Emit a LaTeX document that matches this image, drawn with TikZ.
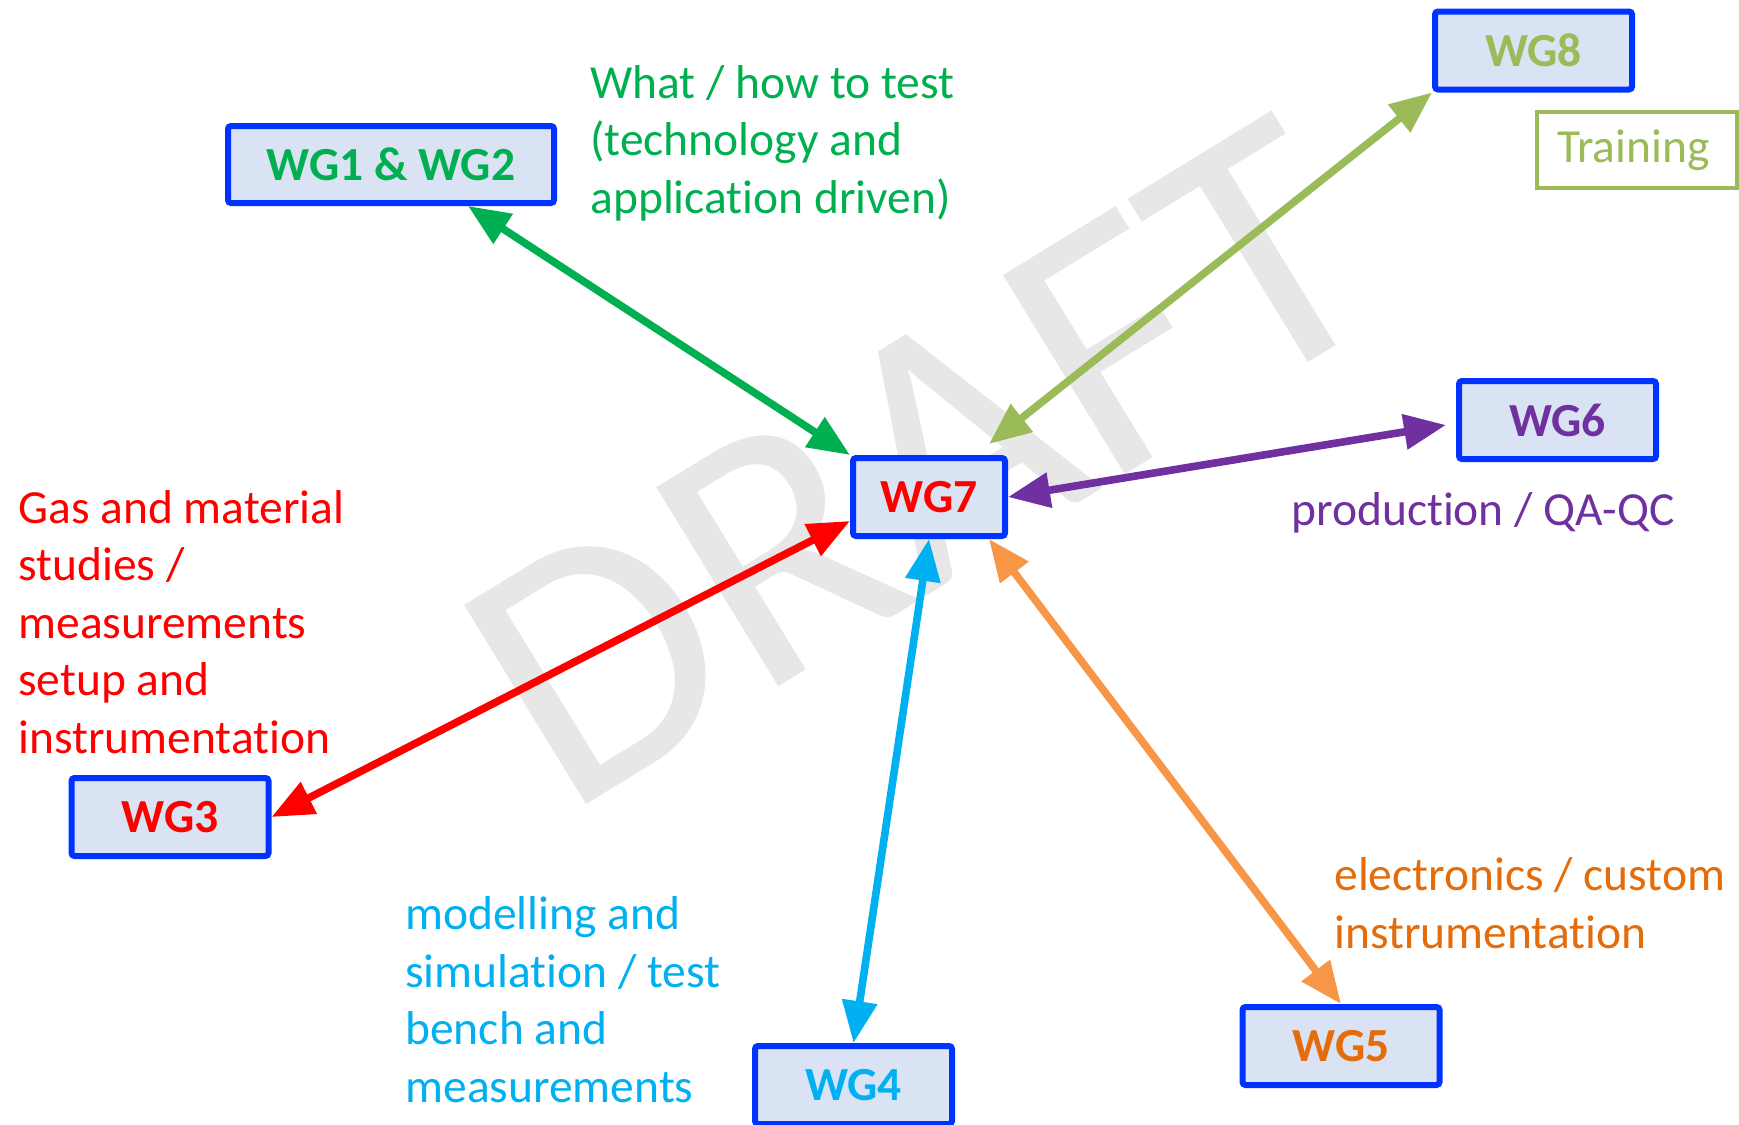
\documentclass[tikz,border=0pt]{standalone}
\usepackage{fontspec}
\setmainfont{Carlito}[Ligatures={NoCommon}]
\usetikzlibrary{arrows.meta}

\definecolor{boxfill}{RGB}{218,227,243}
\definecolor{boxline}{RGB}{0,51,255}
\definecolor{wggreen}{RGB}{0,176,80}
\definecolor{wglime}{RGB}{155,187,89}
\definecolor{wgpurple}{RGB}{112,48,160}
\definecolor{wgred}{RGB}{255,0,0}
\definecolor{wgcyan}{RGB}{0,176,240}
\definecolor{wgorange}{RGB}{247,150,70}
\definecolor{wgorangetext}{RGB}{228,108,10}
\definecolor{watermark}{RGB}{231,231,231}

\begin{document}
\begin{tikzpicture}[x=0.5pt,y=-0.5pt,
  wgbox/.style={draw=boxline, fill=boxfill, line width=3pt, rounded corners=1.5pt,
    minimum width=98.5pt, minimum height=39pt, inner sep=0pt,
    font=\fontsize{23.75}{28.5}\selectfont\bfseries},
  note/.style={anchor=base west, align=left, inner sep=0pt,
    font=\fontsize{23.75}{28.75}\selectfont},
  link/.style={line width=3.8pt,
    {Triangle[length=21pt,width=17pt]}-{Triangle[length=21pt,width=17pt]}}
]
\useasboundingbox (0,0) rectangle (1739,1124);
\clip (0,0) rectangle (1739,1124);
\fill[white] (0,0) rectangle (1739,1124);

% watermark
\node[anchor=base west, rotate=31.5, inner sep=0pt, text=watermark,
  font=\fontsize{182}{182}\selectfont] (draft) at (565,818) {DRAFT};

% working group boxes
\node[wgbox, text=wggreen, minimum width=163pt, minimum height=38.5pt] (g12) at (391,164.5) {WG1 \& WG2};
\node[wgbox, text=wgred, minimum width=76pt] (wg7) at (929,497) {WG7};
\node[wgbox, text=wglime] (wg8) at (1533.5,50.5) {WG8};
\node[wgbox, text=wgpurple] (wg6) at (1557.5,420) {WG6};
\node[wgbox, text=wgred] (wg3) at (170,817) {WG3};
\node[wgbox, text=wgcyan] (wg4) at (853.5,1085) {WG4};
\node[wgbox, text=wgorangetext] (wg5) at (1341,1046) {WG5};

\node[draw=wglime, line width=2pt, outer sep=0pt, anchor=west, text width=80pt,
  inner xsep=10pt, minimum height=38pt, align=left, text=wglime,
  font=\fontsize{23.75}{28.5}\selectfont] (train) at (1537,150) {Training};

% connectors
\draw[link, wggreen] ([xshift=38.5pt]g12.south) -- (wg7.north west);
\draw[link, wglime] (wg8.south west) -- ([xshift=30pt,yshift=5.5pt]wg7.north);
\draw[link, wgpurple] ([xshift=-5pt,yshift=-2.5pt]wg6.west) -- (wg7.east);
\draw[link, wgred] ([yshift=-12pt]wg7.west) -- (wg3.east);
\draw[link, wgcyan] (wg7.south) -- (wg4.north);
\draw[link, wgorange] ([xshift=30pt]wg7.south) -- (wg5.north);

% annotations (placed by the baseline of their last line)
\node[note, text=wgred] (t3) at (18,753)
  {Gas and material\\studies /\\measurements\\setup and\\instrumentation};
\node[note, text=wggreen] (t12) at (590,213)
  {What / how to test\\(technology and\\application driven)};
\node[note, text=wgpurple] (t6) at (1291,525) {production / QA-QC};
\node[note, text=wgorangetext] (t5) at (1334,948)
  {electronics / custom\\instrumentation};
\node[note, text=wgcyan] (t4) at (405,1102)
  {modelling and\\simulation / test\\bench and\\measurements};
\end{tikzpicture}
\end{document}
